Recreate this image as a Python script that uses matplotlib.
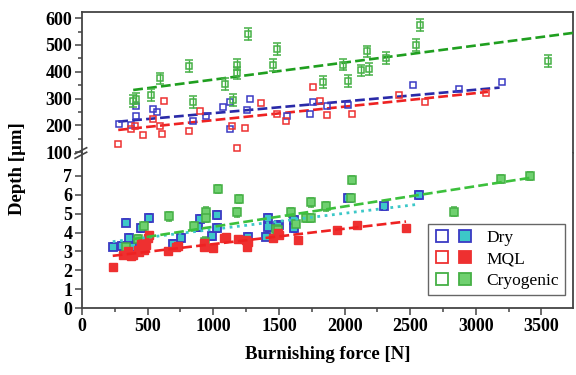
import matplotlib
matplotlib.use("Agg")
import matplotlib.pyplot as plt
from matplotlib.legend_handler import HandlerTuple
from matplotlib.lines import Line2D
from matplotlib.ticker import MultipleLocator

# --- data: top section (depth in um) ---
dry_top_x = [284, 373, 411, 411, 543, 568, 847, 944, 1071, 1126, 1126, 1253, 1278,
             1560, 1740, 1760, 1869, 2027, 2521, 2871, 3201]
dry_top_y = [205, 201, 272, 236, 260, 250, 217, 236, 267, 186, 288, 258, 300,
             234, 242, 288, 273, 275, 350, 337, 362]

mql_top_x = [276, 373, 404, 467, 538, 594, 611, 624, 817, 898, 1139, 1182, 1240,
             1362, 1482, 1557, 1760, 1811, 1869, 2060, 2415, 2615, 3080]
mql_top_y = [131, 186, 199, 164, 223, 199, 167, 291, 179, 255, 199, 116, 191,
             284, 242, 217, 345, 291, 238, 242, 313, 288, 319]

cryo_top_x = [386, 410, 525, 594, 817, 842, 1088, 1152, 1182, 1182, 1266, 1456, 1489,
              1836, 1989, 2027, 2128, 2171, 2186, 2318, 2546, 2572, 3549]
cryo_top_y = [291, 300, 314, 375, 421, 288, 353, 295, 427, 394, 541, 425, 485,
              362, 427, 365, 405, 476, 409, 452, 501, 575, 439]
cryo_top_err = 22

# --- data: bottom section ---
dry_bot_x = [236, 335, 302, 360, 450, 513, 381, 754, 691, 882, 899, 988, 1029, 1029,
             1263, 1415, 1415, 1402, 1503, 1491, 1618, 1618, 2023, 2303, 2570]
dry_bot_y = [3.26, 4.53, 3.30, 3.70, 4.23, 4.76, 3.26, 3.70, 3.40, 4.29, 4.71, 3.83, 4.94, 4.23,
             3.76, 4.76, 4.29, 3.79, 4.41, 4.32, 4.67, 4.23, 5.82, 5.38, 5.99]
dry_bot_err = 0.2

mql_bot_x = [234, 310, 348, 373, 386, 424, 437, 450, 475, 488, 500, 513, 653, 716,
             729, 927, 932, 996, 1084, 1097, 1187, 1250, 1257, 1263, 1453, 1491,
             1499, 1643, 1945, 2097, 2468]
mql_bot_y = [2.20, 2.80, 3.00, 2.77, 2.82, 3.08, 2.99, 3.44, 3.08, 3.35, 3.70, 3.88, 3.00, 3.26,
             3.30, 3.26, 3.44, 3.17, 3.70, 3.76, 3.65, 3.61, 3.26, 3.52, 3.70, 3.95,
             3.88, 3.61, 4.11, 4.41, 4.23]
mql_bot_err = 0.15

cryo_bot_x = [335, 424, 475, 660, 856, 945, 945, 937, 1034, 1181, 1199, 1478, 1593,
              1491, 1631, 1707, 1745, 1745, 1859, 2060, 2047, 2834, 3189, 3413]
cryo_bot_y = [3.26, 3.65, 4.32, 4.85, 4.32, 5.11, 4.76, 3.52, 6.30, 5.06, 5.77, 4.18, 5.06,
              4.14, 4.46, 4.76, 5.59, 4.76, 5.38, 6.79, 5.82, 5.11, 6.83, 7.00]
cryo_bot_err = 0.22

# --- trend lines (start/end) ---
dry_top_fit_x, dry_top_fit_y = [276, 3181], [214, 341]
mql_top_fit_x, mql_top_fit_y = [276, 3092], [183, 325]
cryo_top_fit_x, cryo_top_fit_y = [390, 3740], [332, 545]
dry_bot_fit_x, dry_bot_fit_y = [234, 2570], [3.52, 5.50]
mql_bot_fit_x, mql_bot_fit_y = [234, 2468], [2.77, 4.58]
cryo_bot_fit_x, cryo_bot_fit_y = [386, 3433], [3.65, 6.91]

BLUE = "#3a3ac4"
RED = "#ee3030"
GREEN = "#45b045"
CYAN = "#3cc8c8"
LGREEN = "#6fd06f"

plt.rcParams['font.family'] = ['Liberation Serif', 'DejaVu Serif']

fig = plt.figure(figsize=(5.76, 3.75), dpi=100)
ax_top = fig.add_axes([0.1424, 0.592, 0.8524, 0.376])
ax_bot = fig.add_axes([0.1424, 0.1779, 0.8524, 0.4141], sharex=ax_top)

# top section: open squares
ax_top.plot(dry_top_x, dry_top_y, 's', ms=5, mfc='none', mec=BLUE, mew=1.1, zorder=4)
ax_top.plot(mql_top_x, mql_top_y, 's', ms=5, mfc='none', mec=RED, mew=1.1, zorder=4)
ax_top.errorbar(cryo_top_x, cryo_top_y, yerr=cryo_top_err, fmt='s', ms=5, mfc='none',
                mec=GREEN, mew=1.1, ecolor=GREEN, elinewidth=1, capsize=3, zorder=4)

ax_top.plot(dry_top_fit_x, dry_top_fit_y, '--', color="#2a2aa8", lw=1.9, zorder=3)
ax_top.plot(mql_top_fit_x, mql_top_fit_y, '--', color="#ee2222", lw=1.9, zorder=3)
ax_top.plot(cryo_top_fit_x, cryo_top_fit_y, '--', color="#1f9f1f", lw=1.9, zorder=3)

# bottom section: filled squares with error bars
ax_bot.errorbar(dry_bot_x, dry_bot_y, yerr=dry_bot_err, fmt='s', ms=5.5, mfc=CYAN,
                mec=BLUE, mew=1.3, ecolor=BLUE, elinewidth=1, capsize=2.5, zorder=4)
ax_bot.errorbar(mql_bot_x, mql_bot_y, yerr=mql_bot_err, fmt='s', ms=5.5, mfc=RED,
                mec=RED, mew=1.0, ecolor=RED, elinewidth=1, capsize=2.5, zorder=5)
ax_bot.errorbar(cryo_bot_x, cryo_bot_y, yerr=cryo_bot_err, fmt='s', ms=5.5, mfc=LGREEN,
                mec=GREEN, mew=1.1, ecolor=GREEN, elinewidth=1, capsize=2.5, zorder=4)

ax_bot.plot(dry_bot_fit_x, dry_bot_fit_y, ':', color=CYAN, lw=2, zorder=6)
ax_bot.plot(mql_bot_fit_x, mql_bot_fit_y, '--', color="#ee2222", lw=1.9, zorder=6)
ax_bot.plot(cryo_bot_fit_x, cryo_bot_fit_y, '--', color="#3cc03c", lw=1.9, zorder=6)

# axes / broken scale
ax_top.set_xlim(0, 3740)
ax_top.set_ylim(97, 623)
ax_bot.set_ylim(0, 8.2)
ax_top.yaxis.set_major_locator(MultipleLocator(100))
ax_top.yaxis.set_minor_locator(MultipleLocator(50))
ax_bot.set_yticks(range(0, 8))
ax_bot.xaxis.set_major_locator(MultipleLocator(500))
ax_bot.xaxis.set_minor_locator(MultipleLocator(250))

ax_top.spines['bottom'].set_visible(False)
ax_bot.spines['top'].set_visible(False)
for ax in (ax_top, ax_bot):
    for s in ax.spines.values():
        s.set_linewidth(1.3)
        s.set_color("#444444")
    ax.tick_params(which='both', direction='out', right=False, top=False,
                   labelsize=13, width=1.1, color="#444444", pad=2)
    ax.tick_params(which='major', length=5)
    ax.tick_params(which='minor', length=3)
    for lab in ax.get_yticklabels() + ax.get_xticklabels():
        lab.set_fontweight('bold')
ax_top.tick_params(axis='x', which='both', bottom=False, labelbottom=False)

# break marks on the left spine
for dy in (-0.006, 0.006):
    fig.add_artist(Line2D([0.1424 - 0.012, 0.1424 + 0.008], [0.592 + dy - 0.008, 0.592 + dy + 0.008],
                          color="#444444", lw=1.2, transform=fig.transFigure))

ax_bot.set_xlabel('Burnishing force [N]', fontsize=13.5, fontweight='bold', labelpad=8)
fig.text(0.03, 0.55, 'Depth [\u00b5m]', rotation=90, fontsize=13.5, fontweight='bold',
         ha='center', va='center')

# legend with open + filled markers
def sq(fc, ec):
    return Line2D([0], [0], marker='s', ls='none', ms=9, mfc=fc, mec=ec, mew=1.3)

handles = [(sq('none', BLUE), sq(CYAN, BLUE)),
           (sq('none', RED), sq(RED, RED)),
           (sq('none', GREEN), sq(LGREEN, GREEN))]
ax_bot.legend(handles, ['Dry', 'MQL', 'Cryogenic'],
              handler_map={tuple: HandlerTuple(ndivide=None, pad=0.5)},
              loc='lower right', bbox_to_anchor=(0.984, 0.086), borderaxespad=0,
              fontsize=12.5, handlelength=2.2, fancybox=False, edgecolor="#666666",
              framealpha=1, borderpad=0.35, labelspacing=0.3, handletextpad=0.8)

fig.savefig("out.png", dpi=100)
